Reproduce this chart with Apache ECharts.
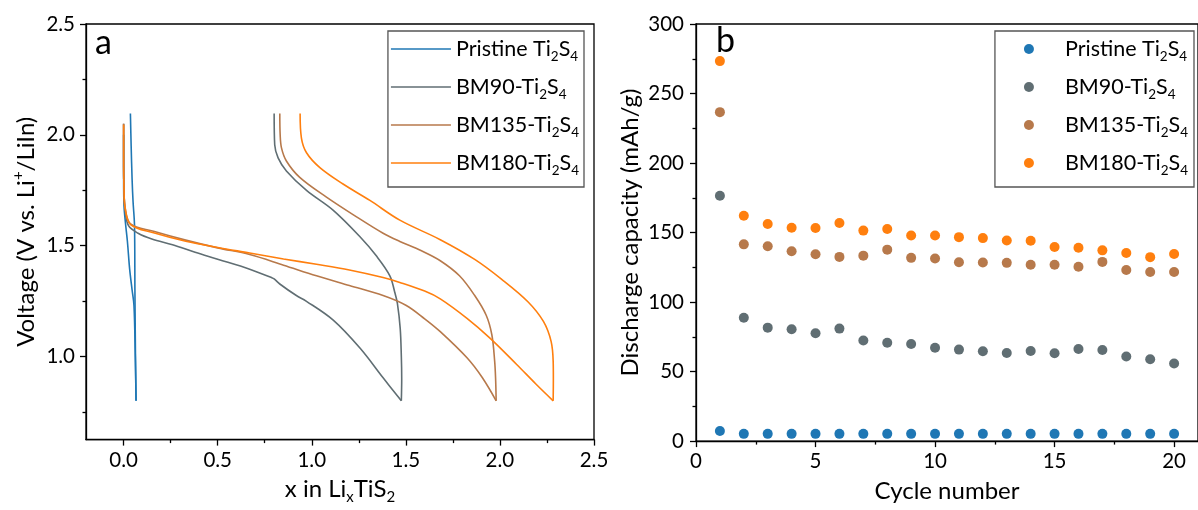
<!DOCTYPE html>
<html>
<head>
<meta charset="utf-8">
<script src="https://cdn.jsdelivr.net/npm/echarts@6/dist/echarts.min.js"></script>
<style>html,body{margin:0;padding:0;background:#fff}#c{width:1198px;height:510px}</style>
</head>
<body>
<div id="c"></div>
<script>
// ---------- Data (panel a: x in LixTiS2 vs voltage), discharge then charge ----------
const dischPristine = [[0,2.0],[0,1.8],[0.002,1.68],[0.01,1.6],[0.02,1.52],[0.032,1.394],[0.045,1.3],[0.055,1.23],[0.062,1.0],[0.066,0.8]];
const chgPristine = [[0.066,0.8],[0.063,1.0],[0.06,1.3],[0.058,1.586],[0.05,1.7],[0.045,1.8],[0.04,1.95],[0.036,2.096]];
const dischBM90 = [[0,2.05],[0,1.9],[0.002,1.75],[0.008,1.66],[0.026,1.59],[0.077,1.556],[0.15,1.53],[0.26,1.504],[0.38,1.47],[0.504,1.438],[0.67,1.394],[0.786,1.356],[0.8,1.35],[0.83,1.327],[0.918,1.275],[0.97,1.25],[1.114,1.164],[1.256,1.038],[1.378,0.905],[1.476,0.8]];
const chgBM90 = [[1.476,0.8],[1.478,0.9],[1.476,1.0],[1.47,1.127],[1.455,1.24],[1.441,1.29],[1.415,1.364],[1.344,1.453],[1.255,1.541],[1.113,1.66],[0.972,1.749],[0.865,1.837],[0.821,1.896],[0.803,1.955],[0.8,2.096]];
const dischBM135 = [[0,2.05],[0,1.9],[0.002,1.75],[0.008,1.67],[0.037,1.598],[0.159,1.565],[0.33,1.525],[0.5,1.49],[0.67,1.46],[0.85,1.412],[1.025,1.364],[1.2,1.32],[1.379,1.275],[1.5,1.231],[1.6,1.17],[1.683,1.112],[1.825,0.994],[1.906,0.905],[1.98,0.8]];
const chgBM135 = [[1.98,0.8],[1.977,0.9],[1.972,0.979],[1.957,1.098],[1.927,1.186],[1.866,1.275],[1.785,1.364],[1.683,1.432],[1.58,1.478],[1.468,1.519],[1.379,1.556],[1.238,1.63],[1.078,1.719],[0.936,1.808],[0.865,1.882],[0.839,1.941],[0.832,2.0],[0.83,2.096]];
const dischBM180 = [[0,2.045],[0,1.9],[0.002,1.75],[0.008,1.67],[0.037,1.595],[0.159,1.558],[0.33,1.52],[0.5,1.492],[0.67,1.467],[0.85,1.44],[1.025,1.416],[1.2,1.39],[1.379,1.356],[1.468,1.334],[1.6,1.295],[1.683,1.26],[1.825,1.172],[1.947,1.083],[2.089,0.964],[2.191,0.876],[2.283,0.8]];
const chgBM180 = [[2.283,0.8],[2.284,0.9],[2.283,0.979],[2.272,1.068],[2.232,1.157],[2.15,1.246],[2.008,1.349],[1.866,1.438],[1.683,1.527],[1.468,1.615],[1.309,1.704],[1.166,1.778],[1.043,1.852],[0.972,1.919],[0.945,1.985],[0.938,2.096]];

// ---------- Data (panel b: discharge capacity vs cycle) ----------
const cycles = [1,2,3,4,5,6,7,8,9,10,11,12,13,14,15,16,17,18,19,20];
const capPristine = [7.3,5.2,5.2,5.2,5.2,5.2,5.2,5.2,5.2,5.2,5.2,5.2,5.2,5.2,5.2,5.2,5.2,5.2,5.2,5.2];
const capBM90 = [176.5,88.7,81.6,80.4,77.6,80.9,72.4,70.7,69.8,67.2,65.8,64.6,63.4,64.8,63.2,66.2,65.5,60.8,58.9,55.8];
const capBM135 = [236.6,141.5,140.1,136.5,134.4,132.5,133.4,137.7,131.8,131.3,128.7,128.5,128.2,126.8,126.8,125.4,128.9,123.0,121.6,121.6];
const capBM180 = [273.3,162.1,156.2,153.5,153.3,156.9,151.4,152.6,147.9,147.9,146.7,146.0,144.3,144.1,139.6,139.1,137.2,135.3,132.3,134.6];

const seriesNames = ['Pristine Ti2S4','BM90-Ti2S4','BM135-Ti2S4','BM180-Ti2S4'];
const colors = ['#1f77b4','#606e73','#b7794b','#ff7f0e'];

// ---------- Tick labels ----------
const xTicksA = [0,0.5,1.0,1.5,2.0,2.5];
const xMinorA = [0.25,0.75,1.25,1.75,2.25];
const yTicksA = [1.0,1.5,2.0,2.5];
const yMinorA = [0.75,1.25,1.75,2.25];
const xTicksB = [0,5,10,15,20];
const xMinorB = [2.5,7.5,12.5,17.5];
const yTicksB = [0,50,100,150,200,250,300];
const yMinorB = [25,75,125,175,225,275];

// ---------- Styles ----------
const FONT = 'Lato';
const TXT = '#000';
const AX = {color:'#000', width:1.3};
const labelStyle = {fontFamily:FONT, fontSize:20.5, color:TXT};
const richName = {
  sub:{fontFamily:FONT, fontSize:15, height:12, verticalAlign:'bottom', color:TXT},
  sup:{fontFamily:FONT, fontSize:15, height:12, verticalAlign:'top', color:TXT}
};
const nameStyle = {fontFamily:FONT, fontSize:24, lineHeight:28, color:TXT, rich:richName};
const fmtName = n => n.replace('Ti2S4','Ti{sub|2}S{sub|4}');

function mainAxis(grid, min, max, ticks, fmt, name, gap, pos, margin){
  return {gridIndex:grid, type:'value', min:min, max:max, position:pos,
    axisLine:{show:true, onZero:false, lineStyle:AX},
    axisTick:{show:true, inside:false, length:6, customValues:ticks, lineStyle:AX},
    axisLabel:{show:true, customValues:ticks, formatter:fmt, margin:margin, ...labelStyle},
    splitLine:{show:false},
    name:name, nameLocation:'middle', nameGap:gap, nameTextStyle:nameStyle};
}
function minorAxis(grid, min, max, ticks, pos){
  return {gridIndex:grid, type:'value', min:min, max:max, position:pos,
    axisLine:{show:false, onZero:false},
    axisTick:{show:true, inside:false, length:3.5, customValues:ticks, lineStyle:AX},
    axisLabel:{show:false}, splitLine:{show:false}};
}

const legendText = {fontFamily:FONT, fontSize:21.5, lineHeight:26, color:TXT,
  rich:{sub:{fontFamily:FONT, fontSize:13.5, height:10, verticalAlign:'bottom', color:TXT},
        gap:{width:26}}};
const legendCommon = {
  orient:'vertical', selectedMode:false, borderColor:'#555', borderWidth:1.3,
  itemGap:10, textStyle:legendText
};

const curves = [[dischPristine,chgPristine],[dischBM90,chgBM90],[dischBM135,chgBM135],[dischBM180,chgBM180]];
const lineSeries = [];
curves.forEach((pair,i)=>pair.forEach(d=>lineSeries.push({
  name:seriesNames[i], type:'line', xAxisIndex:0, yAxisIndex:0, data:d,
  symbol:'none', showSymbol:false, smooth:0.35, clip:true,
  lineStyle:{width:1.6, color:colors[i]}, itemStyle:{color:colors[i]}, z:2+i
})));
const scatterSeries = [capPristine, capBM90, capBM135, capBM180].map((d,i)=>({
  name:seriesNames[i], type:'scatter', xAxisIndex:2, yAxisIndex:2,
  data:cycles.map((c,k)=>[c,d[k]]), symbol:'circle', symbolSize:10,
  itemStyle:{color:colors[i], opacity:1}, z:2+i
}));

const chart = echarts.init(document.getElementById('c'), null, {renderer:'canvas'});
chart.setOption({
  animation:false,
  backgroundColor:'#fff',
  grid:[
    {left:86, top:24, width:508, height:422.7, show:true, borderColor:'#000', borderWidth:1.3, containLabel:false},
    {left:696, top:24, width:507, height:422.7, show:true, borderColor:'#000', borderWidth:1.3, containLabel:false}
  ],
  xAxis:[
    mainAxis(0,-0.2,2.5,xTicksA,v=>v.toFixed(1),'x in Li{sub|x}TiS{sub|2}',35,'bottom',10),
    minorAxis(0,-0.2,2.5,xMinorA,'bottom'),
    mainAxis(1,0,21,xTicksB,v=>String(v),'Cycle number',35,'bottom',10),
    minorAxis(1,0,21,xMinorB,'bottom')
  ],
  yAxis:[
    mainAxis(0,0.625,2.5,yTicksA,v=>v.toFixed(1),'Voltage (V vs. Li{sup|+}/LiIn)',46,'left',11),
    minorAxis(0,0.625,2.5,yMinorA,'left'),
    mainAxis(1,0,300,yTicksB,v=>String(v),'Discharge capacity (mAh/g)',52,'left',12),
    minorAxis(1,0,300,yMinorB,'left')
  ],
  legend:[
    {...legendCommon, right:614, top:31, padding:[5,5,9,3], itemWidth:60, itemHeight:14,
      formatter:fmtName,
      data:seriesNames.map((n,i)=>({name:n, icon:'path://M0,0L60,0L60,1.6L0,1.6Z', itemStyle:{color:colors[i]}}))},
    {...legendCommon, right:4, top:31, padding:[5,6,9,29], itemWidth:10, itemHeight:10,
      formatter:n=>'{gap| }'+fmtName(n),
      data:seriesNames.map((n,i)=>({name:n, icon:'circle', itemStyle:{color:colors[i]}}))}
  ],
  graphic:[
    {type:'text', left:95, top:26, style:{text:'a', fontFamily:FONT, fontSize:34, fill:TXT}},
    {type:'text', left:716, top:24, style:{text:'b', fontFamily:FONT, fontSize:34, fill:TXT}}
  ],
  series:[...lineSeries, ...scatterSeries]
});
</script>
</body>
</html>
